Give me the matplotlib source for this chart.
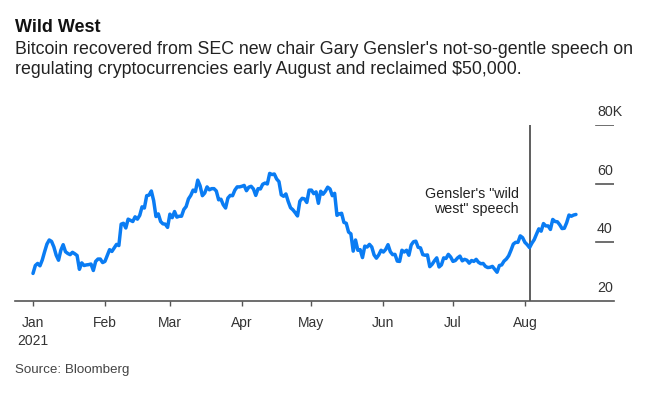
import numpy as np
import pandas as pd
import matplotlib
matplotlib.use("Agg")
import matplotlib.pyplot as plt
import matplotlib.dates as mdates

plt.rcParams['font.family'] = ['Liberation Sans', 'DejaVu Sans']

# Bitcoin daily close, thousands of USD (Jan 1 .. Aug 23, 2021)
jan = [29.4, 32.1, 32.8, 32.0, 34.0, 36.8, 39.4, 40.8, 40.3, 38.4, 35.6, 33.9, 37.3, 39.2,
       36.8, 36.2, 35.8, 36.6, 36.1, 35.5, 30.8, 33.0, 32.1, 32.3, 32.4, 32.6, 30.4, 33.5,
       34.3, 34.3, 33.1]
feb = [33.5, 35.5, 37.5, 36.9, 38.1, 39.3, 38.9, 46.2, 46.5, 44.9, 47.9, 47.5, 47.1, 48.7,
       47.9, 49.2, 52.1, 51.7, 55.9, 56.1, 57.5, 54.2, 48.8, 49.7, 47.1, 46.3, 46.2, 45.1]
mar = [49.6, 48.4, 50.5, 48.6, 48.9, 48.9, 51.2, 52.2, 54.8, 56.0, 57.8, 57.3, 61.2, 59.3,
       55.9, 56.8, 58.9, 57.9, 58.3, 58.3, 57.5, 54.5, 54.7, 52.8, 51.7, 55.1, 56.0, 55.9,
       57.8, 58.9, 58.9]
apr = [59.1, 59.4, 57.6, 58.8, 59.1, 58.2, 56.0, 58.3, 58.2, 59.8, 60.2, 59.9, 63.5, 63.1,
       63.3, 61.6, 60.7, 56.2, 55.7, 56.5, 53.9, 51.8, 51.1, 50.1, 49.0, 54.0, 55.0, 54.8,
       53.6, 57.8]
may = [57.8, 56.6, 57.2, 53.3, 57.4, 56.4, 57.4, 58.8, 58.2, 55.9, 56.7, 49.2, 49.7, 49.9,
       46.8, 46.5, 43.5, 42.9, 37.0, 40.8, 37.3, 37.5, 34.8, 38.7, 38.4, 39.3, 38.4, 35.7,
       34.6, 35.7, 37.3]
jun = [36.7, 37.6, 39.2, 36.8, 35.8, 35.9, 33.6, 33.5, 37.3, 36.7, 37.3, 35.6, 39.1, 40.2,
       40.4, 38.3, 38.1, 35.8, 35.6, 35.7, 31.7, 32.5, 33.7, 34.7, 31.6, 32.3, 34.7, 34.5,
       35.9, 35.0]
jul = [33.5, 33.8, 34.7, 35.3, 33.7, 34.2, 33.9, 32.9, 33.8, 33.5, 34.2, 33.2, 32.7, 32.8,
       31.8, 31.4, 31.5, 31.8, 30.8, 29.8, 32.1, 32.3, 33.6, 34.3, 35.4, 37.3, 39.4, 40.0,
       40.0, 42.2, 41.6]
aug = [40.0, 39.2, 38.2, 39.7, 40.9, 42.8, 44.6, 43.8, 46.4, 45.6, 45.6, 44.4, 47.8, 47.1,
       47.0, 46.0, 44.7, 44.8, 46.7, 49.3, 48.9, 49.3, 49.5]

btc_close_k = jan + feb + mar + apr + may + jun + jul + aug
dates = pd.date_range("2021-01-01", periods=len(btc_close_k), freq="D")

month_ticks = pd.to_datetime(["2021-01-01", "2021-02-01", "2021-03-01", "2021-04-01",
                              "2021-05-01", "2021-06-01", "2021-07-01", "2021-08-01"])
month_labels = ["Jan\n2021", "Feb", "Mar", "Apr", "May", "Jun", "Jul", "Aug"]

y_ticks = [20, 40, 60, 80]
y_labels = ["20", "40", "60", "80K"]

speech_date = pd.Timestamp("2021-08-03")

fig = plt.figure(figsize=(6.5, 3.96), dpi=100)
ax = fig.add_axes([15 / 650, 95 / 396, 599 / 650, 176 / 396])

ax.plot(dates, btc_close_k, color="#0a7cf3", lw=2.5, solid_joinstyle="round",
        solid_capstyle="round", zorder=3)
ax.axvline(speech_date, color="#333333", lw=1.1, zorder=2)

start = mdates.date2num(pd.Timestamp("2021-01-01"))
ax.set_xlim(start - 7.76, start + 250.4)
ax.set_ylim(20, 80)

for s in ["top", "left", "right"]:
    ax.spines[s].set_visible(False)
ax.spines["bottom"].set_color("#555555")
ax.spines["bottom"].set_linewidth(1.2)

ax.set_yticks([])
ax.set_xticks(month_ticks)
ax.set_xticklabels(month_labels)
ax.tick_params(axis="x", length=3.6, width=1, color="#555555", pad=7,
               labelsize=10, labelcolor="#333333")
for lbl in ax.get_xticklabels():
    lbl.set_linespacing(1.35)

# right-hand value scale: short rules with labels sitting on top
for v, lab in zip(y_ticks, y_labels):
    if v != 20:
        ax.axhline(v, xmin=0.97, xmax=1.0, color="#555555", lw=1.2)
    ax.annotate(lab, xy=(0.9716, v), xycoords=("axes fraction", "data"),
                xytext=(0, 6.5), textcoords="offset points",
                ha="left", va="baseline", fontsize=10.3, color="#333333")

ax.annotate("Gensler's \"wild", xy=(speech_date, 55.1), xytext=(-7.5, 0),
            textcoords="offset points", ha="right", va="baseline",
            fontsize=10.3, color="#222222")
ax.annotate("west\" speech", xy=(speech_date, 50.0), xytext=(-7.5, 0),
            textcoords="offset points", ha="right", va="baseline",
            fontsize=10.3, color="#222222")

fig.text(15 / 650, 1 - 32 / 396, "Wild West", fontsize=13, fontweight="bold",
         color="#111111", va="baseline")
fig.text(15 / 650, 1 - 54 / 396,
         "Bitcoin recovered from SEC new chair Gary Gensler's not-so-gentle speech on",
         fontsize=12.75, color="#222222", va="baseline")
fig.text(15 / 650, 1 - 74 / 396,
         "regulating cryptocurrencies early August and reclaimed $50,000.",
         fontsize=12.75, color="#222222", va="baseline")
fig.text(15 / 650, 1 - 373 / 396, "Source: Bloomberg", fontsize=9.6,
         color="#444444", va="baseline")

fig.savefig("out.png", dpi=100)
